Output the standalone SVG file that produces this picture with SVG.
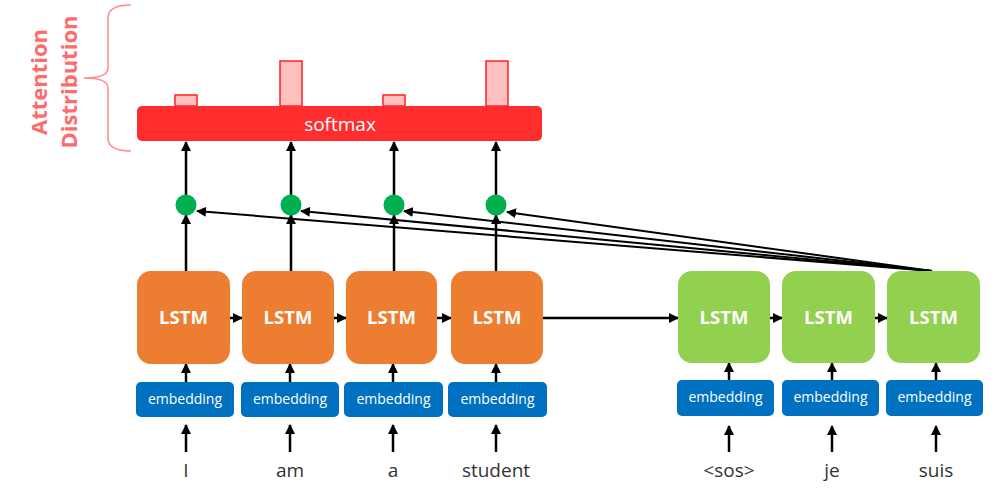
<svg xmlns="http://www.w3.org/2000/svg" width="997" height="489" viewBox="0 0 997 489">
<style>
.lstm-o{fill:#ED7D31}
.lstm-g{fill:#92D050}
.emb{fill:#0070C0}
.lt{font-family:"Open Sans","Liberation Sans",sans-serif;font-weight:bold;font-size:18.5px;fill:#fff;text-anchor:middle}
.et{font-family:"Open Sans","Liberation Sans",sans-serif;font-size:14px;fill:#fff;text-anchor:middle}
.wt{font-family:"Open Sans","Liberation Sans",sans-serif;font-size:19px;fill:#333;text-anchor:middle}
.bar{fill:#FFC0C0;stroke:#FF2020;stroke-width:1.5}
.ln{stroke:#000;stroke-width:2.5;fill:none}
.att{stroke:#000;stroke-width:2;fill:none}
.dot{fill:#00B050}
.lab{font-family:"Open Sans","Liberation Sans",sans-serif;font-weight:bold;font-size:22px;fill:#FF6B6B;text-anchor:middle}
</style>
<defs>
<marker id="ah" markerUnits="userSpaceOnUse" markerWidth="10" markerHeight="10" viewBox="0 0 10 10" refX="9" refY="5" orient="auto">
<path d="M0,0 L10,5 L0,10 Z" fill="#000"/>
</marker>
</defs>

<g id="label">
<text class="lab" transform="translate(47,82) rotate(-90)">Attention</text>
<text class="lab" transform="translate(77,82) rotate(-90)">Distribution</text>
<path d="M131,5 Q108,5 108,18 L108,68 Q108,78 84,78 Q108,78 108,88 L108,138 Q108,151 131,151" fill="none" stroke="#FF8A8A" stroke-width="1.5"/>
</g>

<g id="bars">
<rect class="bar" x="175" y="95" width="22" height="11"/>
<rect class="bar" x="280" y="61" width="22" height="45"/>
<rect class="bar" x="383" y="95" width="22" height="11"/>
<rect class="bar" x="486" y="61" width="22" height="45"/>
</g>

<g id="softmax">
<rect x="137" y="106" width="405" height="35" rx="5" fill="#FF2D2D"/>
<text x="340" y="131" font-family="'Open Sans','Liberation Sans',sans-serif" font-size="19" fill="#fff" text-anchor="middle">softmax</text>
</g>

<g id="connectors">
<line class="ln" x1="186" y1="196" x2="186" y2="142" marker-end="url(#ah)"/>
<line class="ln" x1="291" y1="196" x2="291" y2="142" marker-end="url(#ah)"/>
<line class="ln" x1="394" y1="196" x2="394" y2="142" marker-end="url(#ah)"/>
<line class="ln" x1="496" y1="196" x2="496" y2="142" marker-end="url(#ah)"/>
<line class="ln" x1="186" y1="271" x2="186" y2="215" marker-end="url(#ah)"/>
<line class="ln" x1="291" y1="271" x2="291" y2="215" marker-end="url(#ah)"/>
<line class="ln" x1="394" y1="271" x2="394" y2="215" marker-end="url(#ah)"/>
<line class="ln" x1="496" y1="271" x2="496" y2="215" marker-end="url(#ah)"/>
<line class="att" x1="932" y1="271" x2="197" y2="211" marker-end="url(#ah)"/>
<line class="att" x1="932" y1="271" x2="301" y2="211" marker-end="url(#ah)"/>
<line class="att" x1="932" y1="271" x2="404" y2="211" marker-end="url(#ah)"/>
<line class="att" x1="932" y1="271" x2="507" y2="212" marker-end="url(#ah)"/>
<line class="ln" x1="230" y1="318" x2="242" y2="318" marker-end="url(#ah)"/>
<line class="ln" x1="334" y1="318" x2="346" y2="318" marker-end="url(#ah)"/>
<line class="ln" x1="437" y1="318" x2="451" y2="318" marker-end="url(#ah)"/>
<line class="ln" x1="543" y1="318" x2="678" y2="318" marker-end="url(#ah)"/>
<line class="ln" x1="770" y1="318" x2="782" y2="318" marker-end="url(#ah)"/>
<line class="ln" x1="875" y1="318" x2="887" y2="318" marker-end="url(#ah)"/>
<line class="ln" x1="186" y1="382" x2="186" y2="364" marker-end="url(#ah)"/>
<line class="ln" x1="290" y1="382" x2="290" y2="364" marker-end="url(#ah)"/>
<line class="ln" x1="393" y1="382" x2="393" y2="364" marker-end="url(#ah)"/>
<line class="ln" x1="496" y1="382" x2="496" y2="364" marker-end="url(#ah)"/>
<line class="ln" x1="729" y1="380" x2="729" y2="363" marker-end="url(#ah)"/>
<line class="ln" x1="832" y1="380" x2="832" y2="363" marker-end="url(#ah)"/>
<line class="ln" x1="936" y1="380" x2="936" y2="363" marker-end="url(#ah)"/>
<line class="ln" x1="186" y1="452" x2="186" y2="425" marker-end="url(#ah)"/>
<line class="ln" x1="290" y1="452" x2="290" y2="425" marker-end="url(#ah)"/>
<line class="ln" x1="393" y1="452" x2="393" y2="425" marker-end="url(#ah)"/>
<line class="ln" x1="496" y1="452" x2="496" y2="425" marker-end="url(#ah)"/>
<line class="ln" x1="729" y1="452" x2="729" y2="426" marker-end="url(#ah)"/>
<line class="ln" x1="832" y1="452" x2="832" y2="426" marker-end="url(#ah)"/>
<line class="ln" x1="936" y1="452" x2="936" y2="426" marker-end="url(#ah)"/>
</g>

<g id="dots">
<circle class="dot" cx="186" cy="205" r="10.5"/>
<circle class="dot" cx="291" cy="205" r="10.5"/>
<circle class="dot" cx="394" cy="205" r="10.5"/>
<circle class="dot" cx="496" cy="205" r="10.5"/>
</g>

<g id="enc-lstm-1"><rect class="lstm-o" x="137" y="271" width="93" height="93" rx="14"/><text class="lt" x="183.5" y="324">LSTM</text></g>
<g id="enc-lstm-2"><rect class="lstm-o" x="242" y="271" width="92" height="93" rx="14"/><text class="lt" x="288" y="324">LSTM</text></g>
<g id="enc-lstm-3"><rect class="lstm-o" x="346" y="271" width="91" height="93" rx="14"/><text class="lt" x="391.5" y="324">LSTM</text></g>
<g id="enc-lstm-4"><rect class="lstm-o" x="451" y="271" width="92" height="93" rx="14"/><text class="lt" x="497" y="324">LSTM</text></g>
<g id="dec-lstm-1"><rect class="lstm-g" x="678" y="271" width="92" height="92" rx="14"/><text class="lt" x="724" y="324">LSTM</text></g>
<g id="dec-lstm-2"><rect class="lstm-g" x="782" y="271" width="93" height="92" rx="14"/><text class="lt" x="828.5" y="324">LSTM</text></g>
<g id="dec-lstm-3"><rect class="lstm-g" x="887" y="271" width="93" height="92" rx="14"/><text class="lt" x="933.5" y="324">LSTM</text></g>

<g id="enc-emb-1"><rect class="emb" x="136" y="382" width="98" height="35" rx="5"/><text class="et" x="185" y="404">embedding</text></g>
<g id="enc-emb-2"><rect class="emb" x="241" y="382" width="98" height="35" rx="5"/><text class="et" x="290" y="404">embedding</text></g>
<g id="enc-emb-3"><rect class="emb" x="344" y="382" width="99" height="35" rx="5"/><text class="et" x="393.5" y="404">embedding</text></g>
<g id="enc-emb-4"><rect class="emb" x="448" y="382" width="99" height="35" rx="5"/><text class="et" x="497.5" y="404">embedding</text></g>
<g id="dec-emb-1"><rect class="emb" x="677" y="380" width="97" height="36" rx="5"/><text class="et" x="725.5" y="402">embedding</text></g>
<g id="dec-emb-2"><rect class="emb" x="782" y="380" width="97" height="36" rx="5"/><text class="et" x="830.5" y="402">embedding</text></g>
<g id="dec-emb-3"><rect class="emb" x="886" y="380" width="97" height="36" rx="5"/><text class="et" x="934.5" y="402">embedding</text></g>

<g id="words">
<text class="wt" x="186" y="477">I</text>
<text class="wt" x="290" y="477">am</text>
<text class="wt" x="393" y="477">a</text>
<text class="wt" x="496" y="477">student</text>
<text class="wt" x="729" y="477">&lt;sos&gt;</text>
<text class="wt" x="832" y="477">je</text>
<text class="wt" x="936" y="477">suis</text>
</g>
</svg>
